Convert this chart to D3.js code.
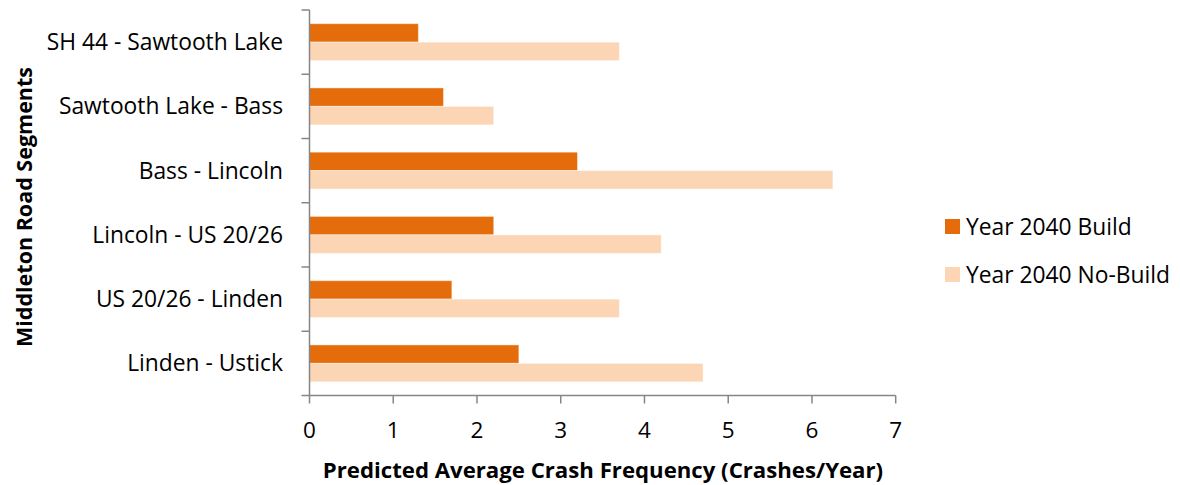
<!DOCTYPE html>
<html>
<head>
<meta charset="utf-8">
<script src="https://cdn.jsdelivr.net/npm/d3@7"></script>
<style>
  body { margin: 0; background: #fff; }
  svg { display: block; font-family: "Open Sans", sans-serif; }
</style>
</head>
<body>
<svg id="chart"></svg>
<script>
const segments = ['SH 44 - Sawtooth Lake', 'Sawtooth Lake - Bass', 'Bass - Lincoln', 'Lincoln - US 20/26', 'US 20/26 - Linden', 'Linden - Ustick']
const buildValues = [1.3, 1.6, 3.2, 2.2, 1.7, 2.5]
const noBuildValues = [3.7, 2.2, 6.25, 4.2, 3.7, 4.7]
const seriesNames = ['Year 2040 Build', 'Year 2040 No-Build']
const seriesColors = ['#e46c0a', '#fcd5b5']
const xTicks = [0, 1, 2, 3, 4, 5, 6, 7]

const width = 1180
const height = 485
const plot = { left: 309.5, right: 895.7, top: 10, bottom: 395.5 }

const svg = d3.select('#chart')
  .attr('width', width)
  .attr('height', height)

const x = d3.scaleLinear()
  .domain([0, 7])
  .range([plot.left, plot.right])

const y = d3.scaleBand()
  .domain(segments)
  .range([plot.top, plot.bottom])

const inner = d3.scaleBand()
  .domain(seriesNames)
  .range([0, y.bandwidth()])
  .paddingOuter(0.74)

const rows = segments.map((s, i) => ({ name: s, values: [buildValues[i], noBuildValues[i]] }))

const groups = svg.append('g')
  .selectAll('g')
  .data(rows)
  .join('g')
  .attr('transform', d => `translate(0, ${y(d.name)})`)

groups.selectAll('rect')
  .data(d => d.values.map((v, i) => ({ v, s: seriesNames[i], c: seriesColors[i] })))
  .join('rect')
  .attr('x', x(0))
  .attr('y', d => inner(d.s))
  .attr('width', d => x(d.v) - x(0))
  .attr('height', inner.bandwidth())
  .attr('fill', d => d.c)
  .attr('stroke', 'rgba(255,255,255,0.45)')
  .attr('stroke-width', 1)

// axes
const axisColor = '#868686'
const axis = svg.append('g')
  .attr('stroke', axisColor)
  .attr('stroke-width', 1.5)
  .attr('fill', 'none')

axis.append('line')
  .attr('x1', x(0)).attr('x2', x(0))
  .attr('y1', plot.top).attr('y2', plot.bottom)
axis.append('line')
  .attr('x1', x(0)).attr('x2', x(7))
  .attr('y1', plot.bottom).attr('y2', plot.bottom)

axis.selectAll('line.yt')
  .data(d3.range(segments.length + 1))
  .join('line')
  .attr('class', 'yt')
  .attr('x1', x(0) - 8).attr('x2', x(0))
  .attr('y1', i => plot.top + i * y.step())
  .attr('y2', i => plot.top + i * y.step())

axis.selectAll('line.xt')
  .data(xTicks)
  .join('line')
  .attr('class', 'xt')
  .attr('x1', d => x(d)).attr('x2', d => x(d))
  .attr('y1', plot.bottom).attr('y2', plot.bottom + 8)

svg.append('g')
  .selectAll('text')
  .data(xTicks)
  .join('text')
  .attr('x', d => x(d))
  .attr('y', 438)
  .attr('text-anchor', 'middle')
  .attr('font-size', 22.5)
  .attr('fill', '#000')
  .text(d => d)

svg.append('g')
  .selectAll('text')
  .data(segments)
  .join('text')
  .attr('x', 283)
  .attr('y', d => y(d) + y.bandwidth() / 2 + 8)
  .attr('text-anchor', 'end')
  .attr('font-size', 22.8)
  .attr('fill', '#000')
  .text(d => d)

svg.append('text')
  .attr('x', 603)
  .attr('y', 478)
  .attr('text-anchor', 'middle')
  .attr('font-size', 22.2)
  .attr('font-weight', 'bold')
  .text('Predicted Average Crash Frequency (Crashes/Year)')

svg.append('text')
  .attr('transform', 'translate(32, 207) rotate(-90)')
  .attr('text-anchor', 'middle')
  .attr('font-size', 21.5)
  .attr('font-weight', 'bold')
  .text('Middleton Road Segments')

// legend
const legend = svg.append('g')
  .selectAll('g')
  .data(seriesNames)
  .join('g')
  .attr('transform', (_, i) => `translate(945, ${219 + i * 48})`)

legend.append('rect')
  .attr('width', 15)
  .attr('height', 15)
  .attr('fill', (_, i) => seriesColors[i])

legend.append('text')
  .attr('x', 21)
  .attr('y', 15.5)
  .attr('font-size', 22.8)
  .text(d => d)
</script>
</body>
</html>
